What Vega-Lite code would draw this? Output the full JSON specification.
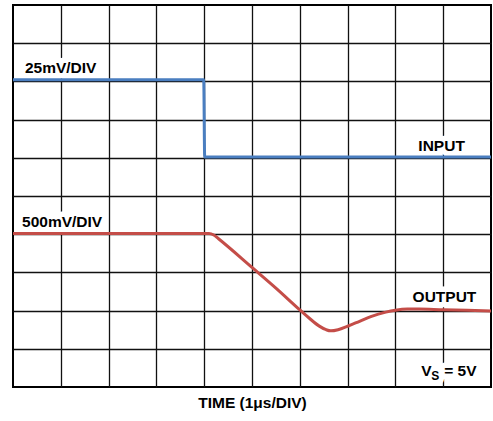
{
  "$schema": "https://vega.github.io/schema/vega-lite/v6.json",
  "width": 478,
  "height": 382,
  "autosize": {"type": "none"},
  "padding": {"left": 13, "top": 5, "right": 2, "bottom": 34},
  "background": "white",
  "config": {
    "view": {"stroke": "black", "strokeWidth": 2},
    "font": "Liberation Sans"
  },
  "datasets": {
    "traces": [
      {"series": "INPUT", "t": 0, "v": 8.04},
      {"series": "INPUT", "t": 3.99, "v": 8.04},
      {"series": "INPUT", "t": 4.01, "v": 6.02},
      {"series": "INPUT", "t": 10, "v": 6.02},
      {"series": "OUTPUT", "t": 0, "v": 4.02},
      {"series": "OUTPUT", "t": 4.1, "v": 4.02},
      {"series": "OUTPUT", "t": 4.2, "v": 3.98},
      {"series": "OUTPUT", "t": 4.3, "v": 3.88},
      {"series": "OUTPUT", "t": 5.0, "v": 3.13},
      {"series": "OUTPUT", "t": 5.5, "v": 2.59},
      {"series": "OUTPUT", "t": 6.0, "v": 2.02},
      {"series": "OUTPUT", "t": 6.2, "v": 1.8},
      {"series": "OUTPUT", "t": 6.4, "v": 1.6},
      {"series": "OUTPUT", "t": 6.55, "v": 1.5},
      {"series": "OUTPUT", "t": 6.65, "v": 1.47},
      {"series": "OUTPUT", "t": 6.8, "v": 1.5},
      {"series": "OUTPUT", "t": 7.0, "v": 1.59},
      {"series": "OUTPUT", "t": 7.25, "v": 1.72},
      {"series": "OUTPUT", "t": 7.5, "v": 1.85},
      {"series": "OUTPUT", "t": 7.8, "v": 1.96},
      {"series": "OUTPUT", "t": 8.0, "v": 2.01},
      {"series": "OUTPUT", "t": 8.25, "v": 2.04},
      {"series": "OUTPUT", "t": 8.5, "v": 2.04},
      {"series": "OUTPUT", "t": 9.0, "v": 2.02},
      {"series": "OUTPUT", "t": 9.5, "v": 2.01},
      {"series": "OUTPUT", "t": 10, "v": 1.99}
    ],
    "labels": [
      {"label": "25mV/DIV", "t": 0.25, "v": 8.22},
      {"label": "INPUT", "t": 8.48, "v": 6.18},
      {"label": "500mV/DIV", "t": 0.19, "v": 4.19},
      {"label": "OUTPUT", "t": 8.36, "v": 2.23},
      {"label": "V", "t": 8.54, "v": 0.29},
      {"label": "= 5V", "t": 9.02, "v": 0.29}
    ],
    "subs": [
      {"label": "S", "t": 8.75, "v": 0.29}
    ]
  },
  "layer": [
    {
      "data": {"name": "labels"},
      "mark": {"type": "text", "align": "left", "baseline": "alphabetic", "fontSize": 15.5, "fontWeight": "bold", "font": "Liberation Sans", "fill": "white", "stroke": "white", "strokeWidth": 11, "strokeJoin": "round"},
      "encoding": {
        "x": {
          "field": "t", "type": "quantitative",
          "scale": {"domain": [0, 10], "nice": false, "zero": false},
          "axis": {
            "values": [1, 2, 3, 4, 5, 6, 7, 8, 9],
            "grid": true, "gridColor": "#111", "gridWidth": 1.3, "gridOpacity": 1,
            "domain": false, "ticks": false, "labels": false,
            "title": "TIME (1μs/DIV)",
            "titleFont": "Liberation Sans", "titleFontSize": 15.5, "titleFontWeight": "bold",
            "titleColor": "black", "titlePadding": 8
          }
        },
        "y": {
          "field": "v", "type": "quantitative",
          "scale": {"domain": [0, 10], "nice": false, "zero": false},
          "axis": {
            "values": [1, 2, 3, 4, 5, 6, 7, 8, 9],
            "grid": true, "gridColor": "#111", "gridWidth": 1.3, "gridOpacity": 1,
            "domain": false, "ticks": false, "labels": false, "title": null
          }
        },
        "text": {"field": "label"}
      }
    },
    {
      "data": {"name": "subs"},
      "mark": {"type": "text", "align": "left", "baseline": "alphabetic", "dy": 4, "fontSize": 12, "fontWeight": "bold", "font": "Liberation Sans", "fill": "white", "stroke": "white", "strokeWidth": 11, "strokeJoin": "round"},
      "encoding": {
        "x": {"field": "t", "type": "quantitative"},
        "y": {"field": "v", "type": "quantitative"},
        "text": {"field": "label"}
      }
    },
    {
      "data": {"name": "traces"},
      "mark": {"type": "line", "strokeWidth": 3, "interpolate": "monotone"},
      "encoding": {
        "x": {"field": "t", "type": "quantitative"},
        "y": {"field": "v", "type": "quantitative"},
        "color": {
          "field": "series", "type": "nominal",
          "scale": {"domain": ["INPUT", "OUTPUT"], "range": ["#4a7ec0", "#c44d48"]},
          "legend": null
        },
        "order": {"field": "t", "type": "quantitative"}
      }
    },
    {
      "data": {"name": "labels"},
      "mark": {"type": "text", "align": "left", "baseline": "alphabetic", "fontSize": 15.5, "fontWeight": "bold", "font": "Liberation Sans", "color": "black"},
      "encoding": {
        "x": {"field": "t", "type": "quantitative"},
        "y": {"field": "v", "type": "quantitative"},
        "text": {"field": "label"}
      }
    },
    {
      "data": {"name": "subs"},
      "mark": {"type": "text", "align": "left", "baseline": "alphabetic", "dy": 4, "fontSize": 12, "fontWeight": "bold", "font": "Liberation Sans", "color": "black"},
      "encoding": {
        "x": {"field": "t", "type": "quantitative"},
        "y": {"field": "v", "type": "quantitative"},
        "text": {"field": "label"}
      }
    }
  ]
}
